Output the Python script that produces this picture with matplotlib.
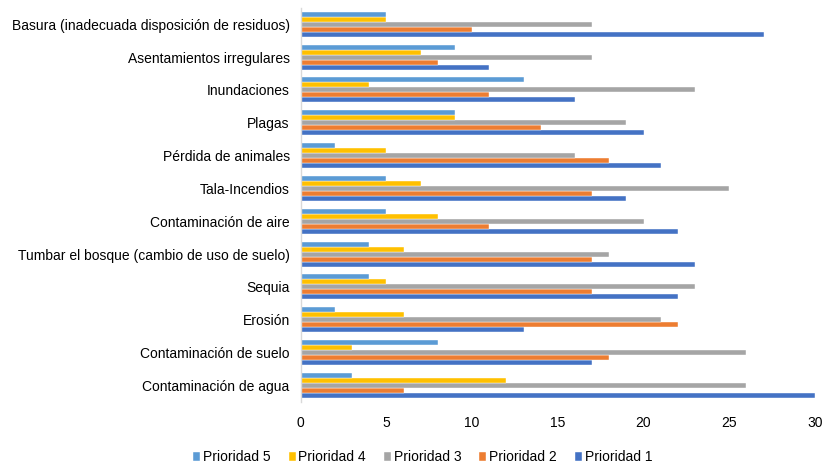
import matplotlib
matplotlib.use("Agg")
import matplotlib.pyplot as plt
import numpy as np

plt.rcParams['font.family'] = ['Liberation Sans', 'DejaVu Sans']

categories = [
    "Contaminación de agua",
    "Contaminación de suelo",
    "Erosión",
    "Sequia",
    "Tumbar el bosque (cambio de uso de suelo)",
    "Contaminación de aire",
    "Tala-Incendios",
    "Pérdida de animales",
    "Plagas",
    "Inundaciones",
    "Asentamientos irregulares",
    "Basura (inadecuada disposición de residuos)",
]
series_names = ["Prioridad 1", "Prioridad 2", "Prioridad 3", "Prioridad 4", "Prioridad 5"]
prioridad1 = [30, 17, 13, 22, 23, 22, 19, 21, 20, 16, 11, 27]
prioridad2 = [6, 18, 22, 17, 17, 11, 17, 18, 14, 11, 8, 10]
prioridad3 = [26, 26, 21, 23, 18, 20, 25, 16, 19, 23, 17, 17]
prioridad4 = [12, 3, 6, 5, 6, 8, 7, 5, 9, 4, 7, 5]
prioridad5 = [3, 8, 2, 4, 4, 5, 5, 2, 9, 13, 9, 5]
x_ticks = [0, 5, 10, 15, 20, 25, 30]

values = [prioridad1, prioridad2, prioridad3, prioridad4, prioridad5]
colors = ["#4472C4", "#ED7D31", "#A5A5A5", "#FFC000", "#5B9BD5"]

fig = plt.figure(figsize=(8.24, 4.63), dpi=100)
ax = fig.add_axes([0.365, 0.132, 0.624, 0.851])

n = len(series_names)
bh = 0.152
y = np.arange(len(categories))
handles = []
for i, (vals, c, name) in enumerate(zip(values, colors, series_names)):
    off = (i - (n - 1) / 2) * bh
    b = ax.barh(y + off, vals, height=bh, color=c, label=name,
                edgecolor='white', linewidth=0.3)
    handles.append(b)

ax.set_xlim(0, 30)
ax.set_ylim(-0.5, len(categories) - 0.5)
ax.set_xticks(x_ticks)
ax.set_yticks(y)
ax.set_yticklabels(categories)
ax.tick_params(axis='both', length=0, labelsize=10, colors='#000000')
ax.tick_params(axis='x', pad=10.5)
ax.tick_params(axis='y', pad=8)
for s in ['top', 'right', 'bottom']:
    ax.spines[s].set_visible(False)
ax.spines['left'].set_color('#D9D9D9')
ax.spines['left'].set_linewidth(1.0)

fig.legend(handles[::-1], series_names[::-1], loc='lower center',
           bbox_to_anchor=(0.513, -0.03), ncol=5, frameon=False,
           fontsize=10, handlelength=0.5, handleheight=0.6,
           handletextpad=0.2, columnspacing=1.3)

fig.savefig("out.png", dpi=100)
